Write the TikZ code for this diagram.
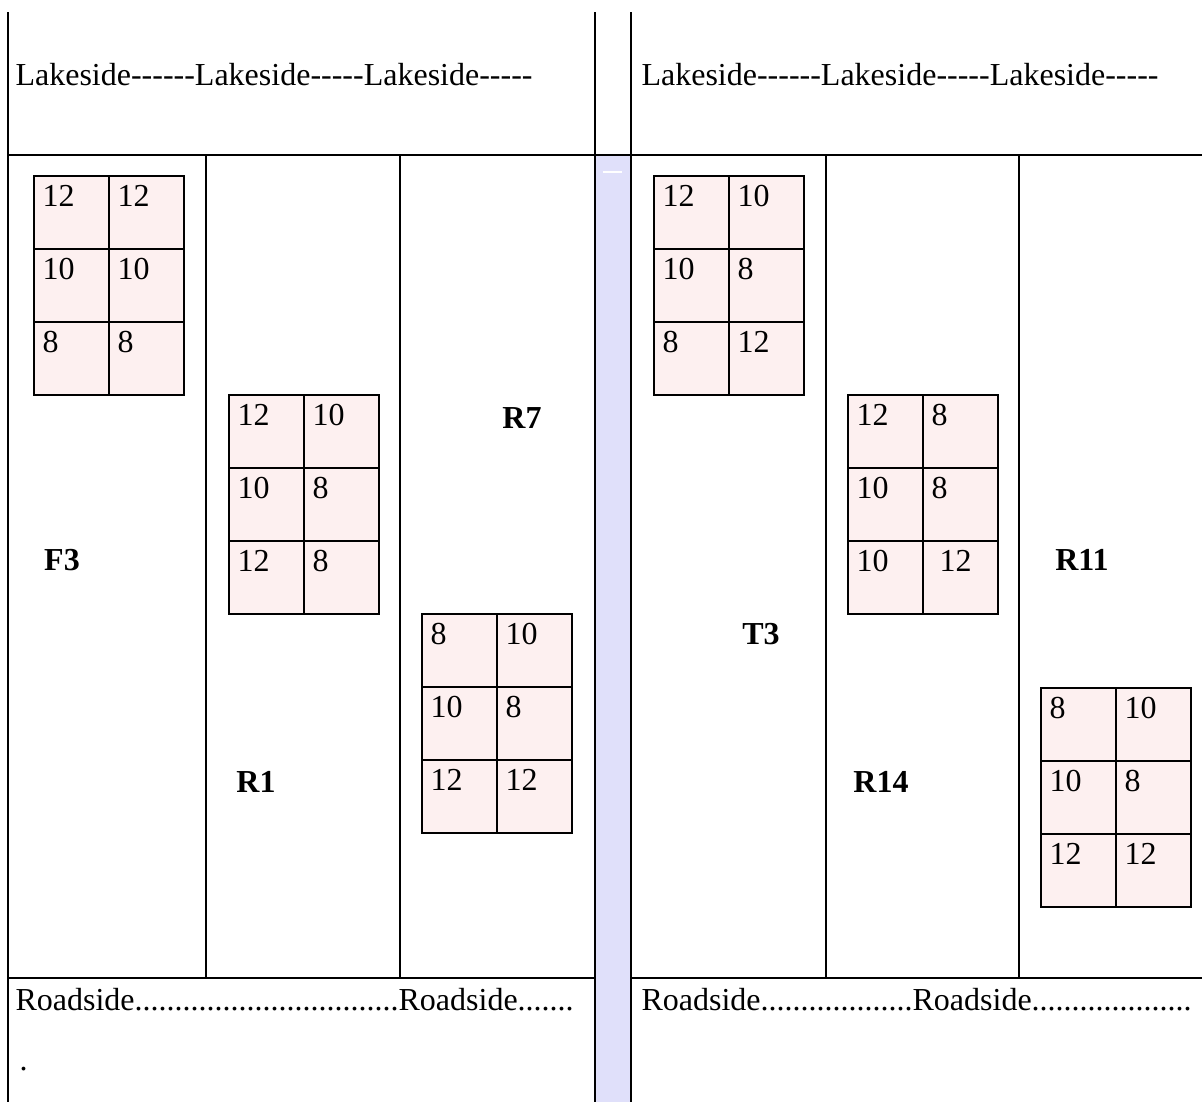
\documentclass[tikz,border=0pt]{standalone}
\usepackage{fontspec}
\setmainfont{Liberation Serif}[Ligatures=TeXOff]
\usepackage{xcolor}
\usepackage{tikz}
\usetikzlibrary{calc}

\definecolor{plotpink}{RGB}{253,240,240}
\definecolor{stripblue}{RGB}{224,224,250}

\tikzset{
	border/.style={line width=0.8pt},
	plotcell/.style={draw,line width=0.8pt,fill=plotpink,minimum width=28.125pt,minimum height=27.375pt,inner sep=0pt,anchor=north west},
	cellnum/.style={anchor=base west,inner sep=0pt,font=\fontsize{12}{14}\selectfont},
	sidetext/.style={anchor=base west,inner sep=0pt,font=\fontsize{12}{14}\selectfont},
	plotname/.style={inner sep=0pt,font=\fontsize{12}{14}\selectfont\bfseries}
}

% one block of 2 x 3 plots: x, y, name, then the six numbers row by row
\newcommand{\plotgrid}[9]{
	\node[plotcell] (#3a) at (#1,#2) {};
	\node[plotcell] (#3b) at (#1+75,#2) {};
	\node[plotcell] (#3c) at (#1,#2+73) {};
	\node[plotcell] (#3d) at (#1+75,#2+73) {};
	\node[plotcell] (#3e) at (#1,#2+146) {};
	\node[plotcell] (#3f) at (#1+75,#2+146) {};
	\node[cellnum] (#3na) at ($(#3a.north west)+(9,31)$) {#4};
	\node[cellnum] (#3nb) at ($(#3b.north west)+(9,31)$) {#5};
	\node[cellnum] (#3nc) at ($(#3c.north west)+(9,31)$) {#6};
	\node[cellnum] (#3nd) at ($(#3d.north west)+(9,31)$) {#7};
	\node[cellnum] (#3ne) at ($(#3e.north west)+(9,31)$) {#8};
	\node[cellnum] (#3nf) at ($(#3f.north west)+(9,31)$) {#9};
}

\begin{document}
\begin{tikzpicture}[x=0.375pt,y=-0.375pt]
	\useasboundingbox (0,0) rectangle (1202,1102);
	% strip between the two fields
	\fill[stripblue] (595,155) rectangle (631,1102);
	\draw[white,line width=0.8pt] (603,172) -- (622,172);
	% frame
	\draw[border] (8,12) -- (8,1102);
	\draw[border] (595,12) -- (595,1102);
	\draw[border] (631,12) -- (631,1102);
	\draw[border] (8,155) -- (1202,155);
	\draw[border] (8,978) -- (595,978) (631,978) -- (1202,978);
	\draw[border] (206,155) -- (206,978) (400,155) -- (400,978);
	\draw[border] (826,155) -- (826,978) (1019,155) -- (1019,978);

	\node[sidetext] (lakeleft) at (15,85) {Lakeside------Lakeside-----Lakeside-----};
	\node[sidetext] (lakeright) at (641,85) {Lakeside------Lakeside-----Lakeside-----};
	\node[sidetext] (roadleft) at (15,1010) {Roadside.................................Roadside.......};
	\node[sidetext] (roaddot) at (19,1070) {.};
	\node[sidetext] (roadright) at (641,1010) {Roadside...................Roadside....................};

	\plotgrid{33}{175}{fa}{12}{12}{10}{10}{8}{8}
	\plotgrid{228}{394}{fb}{12}{10}{10}{8}{12}{8}
	\plotgrid{421}{613}{fc}{8}{10}{10}{8}{12}{12}
	\plotgrid{653}{175}{ta}{12}{10}{10}{8}{8}{12}
	\plotgrid{847}{394}{tb}{12}{8}{10}{8}{10}{\hspace{3pt}12}
	\plotgrid{1040}{687}{tc}{8}{10}{10}{8}{12}{12}

	\node[plotname] (F3) at (62,560) {F3};
	\node[plotname] (R1) at (256,782) {R1};
	\node[plotname] (R7) at (522,418) {R7};
	\node[plotname] (T3) at (761,634) {T3};
	\node[plotname] (R14) at (881,782) {R14};
	\node[plotname] (R11) at (1082,560) {R11};
\end{tikzpicture}
\end{document}
